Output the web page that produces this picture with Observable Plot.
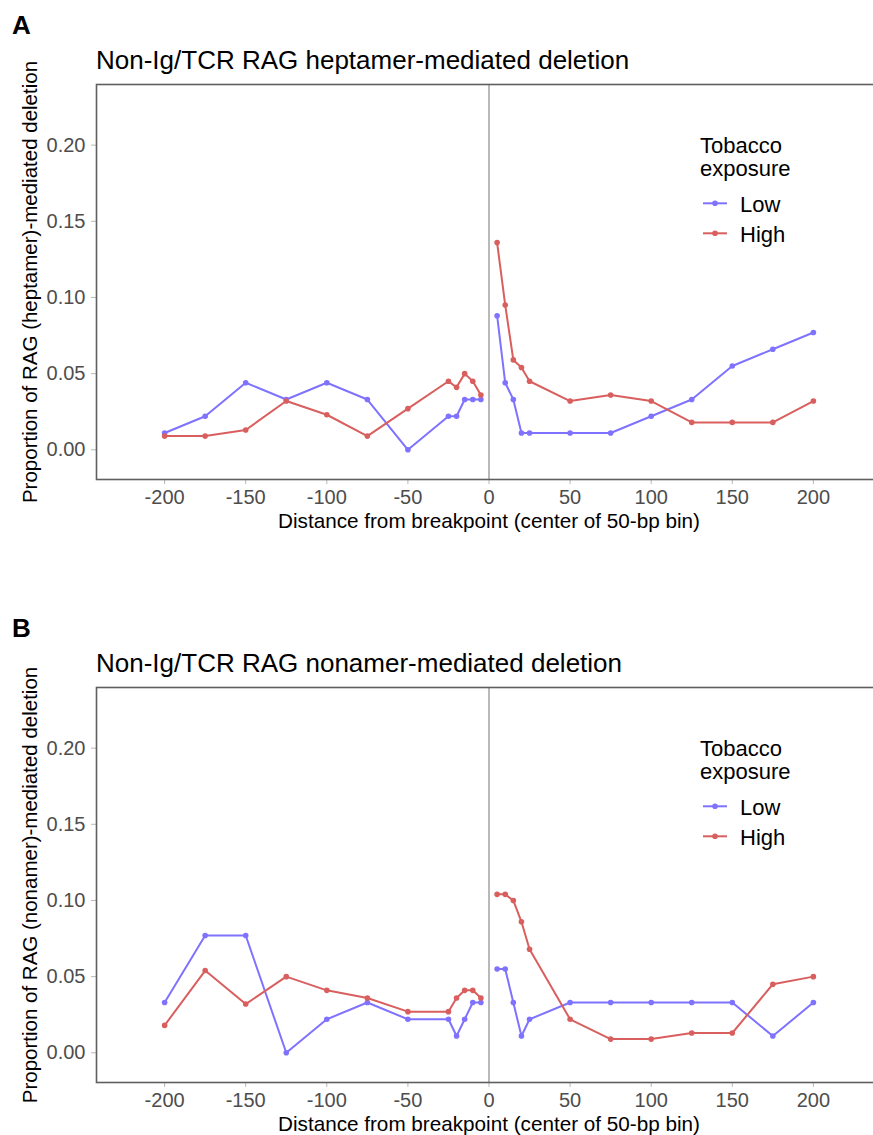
<!DOCTYPE html>
<html>
<head>
<meta charset="utf-8">
<script src="https://cdn.jsdelivr.net/npm/d3@7"></script>
<script src="https://cdn.jsdelivr.net/npm/@observablehq/plot@0.6"></script>
<style>
  html, body { margin: 0; padding: 0; background: #fff; overflow: hidden; }
  #page { position: relative; width: 873px; height: 1135px; overflow: hidden; font-family: "Liberation Sans", Arial, sans-serif; }
  .panel { position: absolute; left: 0; }
  #overlay { position: absolute; left: 0; top: 0; pointer-events: none; }
</style>
</head>
<body>
<div id="page">
  <div class="panel" id="panelA" style="top:80px"></div>
  <div class="panel" id="panelB" style="top:683px"></div>
</div>
<script>
// Bin centres (bp from breakpoint); no bin at 0, so each series is split there
const offsets = [-200, -175, -150, -125, -100, -75, -50, -25, -20, -15, -10, -5,
                 5, 10, 15, 20, 25, 50, 75, 100, 125, 150, 175, 200];

// A: heptamer-mediated deletion
const heptamerLow  = [0.011, 0.022, 0.044, 0.033, 0.044, 0.033, 0.000, 0.022, 0.022, 0.033, 0.033, 0.033,
                      0.088, 0.044, 0.033, 0.011, 0.011, 0.011, 0.011, 0.022, 0.033, 0.055, 0.066, 0.077];
const heptamerHigh = [0.009, 0.009, 0.013, 0.032, 0.023, 0.009, 0.027, 0.045, 0.041, 0.050, 0.045, 0.036,
                      0.136, 0.095, 0.059, 0.054, 0.045, 0.032, 0.036, 0.032, 0.018, 0.018, 0.018, 0.032];

// B: nonamer-mediated deletion
const nonamerLow   = [0.033, 0.077, 0.077, 0.000, 0.022, 0.033, 0.022, 0.022, 0.011, 0.022, 0.033, 0.033,
                      0.055, 0.055, 0.033, 0.011, 0.022, 0.033, 0.033, 0.033, 0.033, 0.033, 0.011, 0.033];
const nonamerHigh  = [0.018, 0.054, 0.032, 0.050, 0.041, 0.036, 0.027, 0.027, 0.036, 0.041, 0.041, 0.036,
                      0.104, 0.104, 0.100, 0.086, 0.068, 0.022, 0.009, 0.009, 0.013, 0.013, 0.045, 0.050];

const exposures = ["Low", "High"];
const colors = ["#7f72ff", "#d95f5f"];
const xTicks = [-200, -150, -100, -50, 0, 50, 100, 150, 200];
const yTicks = [0, 0.05, 0.10, 0.15, 0.20];

const xLabel = "Distance from breakpoint (center of 50-bp bin)";
const FONT = "Liberation Sans, Arial, sans-serif";

function rows(low, high) {
  const out = [];
  [low, high].forEach((vals, k) => {
    vals.forEach((v, i) => {
      const x = offsets[i];
      out.push({offset: x, value: v, exposure: exposures[k], segment: exposures[k] + (x < 0 ? "-up" : "-down")});
    });
  });
  return out;
}

function panel(data, yLabel) {
  return Plot.plot({
    width: 881,
    height: 455,
    marginLeft: 96,
    marginRight: 0,
    marginTop: 4,
    marginBottom: 56,
    style: {fontFamily: FONT, fontSize: "20px", maxWidth: "none",
            background: "transparent", overflow: "visible"},
    x: {domain: [-242, 242]},
    y: {domain: [-0.0195, 0.2398]},
    color: {domain: exposures, range: colors},
    marks: [
      Plot.ruleX([0], {stroke: "#a8a8a8", strokeWidth: 1.6}),
      Plot.line(data, {x: "offset", y: "value", z: "segment", stroke: "exposure", strokeWidth: 2}),
      Plot.dot(data, {x: "offset", y: "value", fill: "exposure", r: 2.8}),
      Plot.axisX({ticks: xTicks, tickFormat: d => String(d), tickSize: 5, tickPadding: 5,
                  label: null, fontSize: 20, stroke: "#b8b8b8", fill: "#4d4d4d"}),
      Plot.axisY({ticks: yTicks, tickFormat: d3.format(".2f"), tickSize: 5, tickPadding: 6,
                  label: null, fontSize: 20, stroke: "#b8b8b8", fill: "#4d4d4d"}),
      Plot.text([xLabel], {frameAnchor: "bottom", lineAnchor: "top", dy: 34, fontSize: 20.7, fill: "#000"}),
      Plot.text([yLabel], {frameAnchor: "left", textAnchor: "middle", rotate: -90, lineAnchor: "bottom",
                           dx: -60, fontSize: 20.5, fill: "#000"}),
      Plot.frame({stroke: "#5f5f5f", strokeWidth: 1.6})
    ]
  });
}

document.getElementById("panelA").append(
  panel(rows(heptamerLow, heptamerHigh), "Proportion of RAG (heptamer)-mediated deletion"));
document.getElementById("panelB").append(
  panel(rows(nonamerLow, nonamerHigh), "Proportion of RAG (nonamer)-mediated deletion"));

// Panel tags, titles and legends
const headers = [
  {tag: "A", title: "Non-Ig/TCR RAG heptamer-mediated deletion", dy: 0},
  {tag: "B", title: "Non-Ig/TCR RAG nonamer-mediated deletion", dy: 603}
];
const svg = d3.select("#page").append("svg")
  .attr("id", "overlay").attr("width", 873).attr("height", 1135);
headers.forEach(h => {
  const g = svg.append("g").attr("transform", `translate(0,${h.dy})`).attr("font-family", FONT);
  g.append("text").attr("x", 12).attr("y", 34)
    .attr("font-weight", "bold").attr("font-size", 26).text(h.tag);
  g.append("text").attr("x", 96).attr("y", 69).attr("font-size", 26).text(h.title);
  const lg = g.append("g").attr("font-size", 22);
  lg.append("text").attr("x", 700).attr("y", 152.5).text("Tobacco");
  lg.append("text").attr("x", 700).attr("y", 176).text("exposure");
  exposures.forEach((e, i) => {
    const cy = 203.3 + i * 30;
    lg.append("line").attr("x1", 703).attr("x2", 727).attr("y1", cy).attr("y2", cy)
      .attr("stroke", colors[i]).attr("stroke-width", 2);
    lg.append("circle").attr("cx", 715).attr("cy", cy).attr("r", 2.8).attr("fill", colors[i]);
    lg.append("text").attr("x", 740).attr("y", cy + 8.3).text(e);
  });
});
</script>
</body>
</html>
